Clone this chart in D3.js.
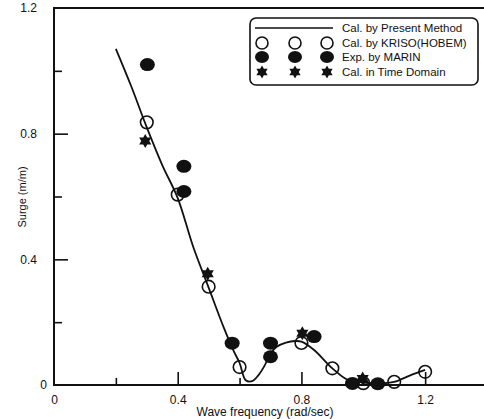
<!DOCTYPE html>
<html>
<head>
<meta charset="utf-8">
<script src="https://cdn.jsdelivr.net/npm/d3@7"></script>
<style>
  body { margin: 0; background: #fff; }
  text { font-family: "Liberation Sans", Arial, sans-serif; fill: #111; }
</style>
</head>
<body>
<div id="content"></div>
<script>
// Surge RAO vs wave frequency

// Cal. by Present Method (solid curve)
var presentFreq = [0.2, 0.25, 0.3, 0.35, 0.4, 0.45, 0.5, 0.55, 0.58, 0.6, 0.62, 0.64, 0.66, 0.68, 0.7, 0.72, 0.75, 0.78, 0.8, 0.84, 0.9, 0.95, 1.0, 1.05, 1.1, 1.15, 1.2];
var presentSurge = [1.07, 0.95, 0.82, 0.70, 0.595, 0.44, 0.31, 0.18, 0.11, 0.07, 0.015, 0.012, 0.03, 0.06, 0.10, 0.122, 0.135, 0.14, 0.138, 0.112, 0.053, 0.016, 0.008, 0.005, 0.01, 0.03, 0.048];

// Cal. by KRISO(HOBEM) (open circles)
var krisoFreq = [0.3, 0.4, 0.5, 0.6, 0.8, 0.9, 1.0, 1.1, 1.2];
var krisoSurge = [0.836, 0.606, 0.313, 0.057, 0.134, 0.053, 0.006, 0.01, 0.042];

// Exp. by MARIN (filled circles)
var marinFreq = [0.302, 0.42, 0.42, 0.576, 0.70, 0.70, 0.841, 0.965, 1.047];
var marinSurge = [1.02, 0.696, 0.616, 0.133, 0.133, 0.09, 0.154, 0.005, 0.004];

// Cal. in Time Domain (stars)
var timeFreq = [0.295, 0.497, 0.803, 0.998];
var timeSurge = [0.777, 0.354, 0.165, 0.021];

var xTicks = [0, 0.4, 0.8, 1.2];
var yTicks = [0, 0.4, 0.8, 1.2];
var legendLabels = ['Cal. by Present Method', 'Cal. by KRISO(HOBEM)', 'Exp. by MARIN', 'Cal. in Time Domain'];

var W = 484, H = 419;
var svg = d3.select('#content').append('svg')
    .attr('width', W)
    .attr('height', H);

var x = d3.scaleLinear().domain([0, 1.4]).range([54, 487]);
var y = d3.scaleLinear().domain([0, 1.2]).range([385, 8]);

// frame
svg.append('rect')
    .attr('x', x(0)).attr('y', y(1.2))
    .attr('width', x(1.4) - x(0)).attr('height', y(0) - y(1.2))
    .attr('fill', 'none').attr('stroke', '#111').attr('stroke-width', 2);

// x axis (ticks pointing inward)
var xAxis = d3.axisBottom(x).tickValues(xTicks).tickSize(-13).tickPadding(10)
    .tickFormat(function(d) { return d === 0 ? '0' : d3.format('.1f')(d); });
var gx = svg.append('g').attr('transform', 'translate(0,' + y(0) + ')').call(xAxis);
gx.select('.domain').remove();
gx.selectAll('line').attr('stroke', '#111').attr('stroke-width', 1.6);
gx.selectAll('text').style('font-size', '12px');
gx.selectAll('.tick').filter(function(d) { return d === 0; }).select('line').remove();

var xMinor = d3.axisBottom(x).tickValues([0.2, 0.6, 1.0]).tickSize(-7).tickFormat('');
var gxm = svg.append('g').attr('transform', 'translate(0,' + y(0) + ')').call(xMinor);
gxm.select('.domain').remove();
gxm.selectAll('line').attr('stroke', '#111').attr('stroke-width', 1.6);

// y axis
var yAxis = d3.axisLeft(y).tickValues(yTicks).tickSize(-14).tickPadding(17)
    .tickFormat(function(d) { return d === 0 ? '0' : d3.format('.1f')(d); });
var gy = svg.append('g').attr('transform', 'translate(' + x(0) + ',0)').call(yAxis);
gy.select('.domain').remove();
gy.selectAll('line').attr('stroke', '#111').attr('stroke-width', 1.6);
gy.selectAll('text').style('font-size', '12px');
gy.selectAll('.tick').filter(function(d) { return d === 0 || d === 1.2; }).select('line').remove();
gy.selectAll('.tick').filter(function(d) { return d === 0; }).select('text').attr('x', -7);

var yMinor = d3.axisLeft(y).tickValues([0.2, 0.6, 1.0]).tickSize(-8).tickFormat('');
var gym = svg.append('g').attr('transform', 'translate(' + x(0) + ',0)').call(yMinor);
gym.select('.domain').remove();
gym.selectAll('line').attr('stroke', '#111').attr('stroke-width', 1.6);

// axis titles
svg.append('text')
    .attr('x', 265).attr('y', 416)
    .attr('text-anchor', 'middle')
    .style('font-size', '12px')
    .text('Wave frequency (rad/sec)');
svg.append('text')
    .attr('transform', 'translate(26,197) rotate(-90)')
    .attr('text-anchor', 'middle')
    .style('font-size', '11px')
    .text('Surge (m/m)');

// present method curve
var line = d3.line()
    .x(function(d) { return x(d[0]); })
    .y(function(d) { return y(d[1]); })
    .curve(d3.curveCatmullRom);
svg.append('path')
    .datum(d3.zip(presentFreq, presentSurge))
    .attr('d', line)
    .attr('fill', 'none')
    .attr('stroke', '#111')
    .attr('stroke-width', 1.8);

function hexStar(size) {
    // six-pointed star: two overlapping triangles
    var r = size, tri1 = [], tri2 = [];
    for (var k = 0; k < 3; k++) {
        var a1 = -Math.PI / 2 + k * 2 * Math.PI / 3;
        var a2 = Math.PI / 2 + k * 2 * Math.PI / 3;
        tri1.push([r * Math.cos(a1), r * Math.sin(a1)]);
        tri2.push([r * Math.cos(a2), r * Math.sin(a2)]);
    }
    return 'M' + tri1.join('L') + 'Z M' + tri2.join('L') + 'Z';
}

// MARIN filled
svg.append('g').selectAll('ellipse')
    .data(d3.zip(marinFreq, marinSurge))
    .enter().append('ellipse')
    .attr('cx', function(d) { return x(d[0]); })
    .attr('cy', function(d) { return y(d[1]); })
    .attr('rx', 7.5).attr('ry', 6.5)
    .attr('fill', '#111');

// KRISO open
svg.append('g').selectAll('circle')
    .data(d3.zip(krisoFreq, krisoSurge))
    .enter().append('circle')
    .attr('cx', function(d) { return x(d[0]); })
    .attr('cy', function(d) { return y(d[1]); })
    .attr('r', 6.3)
    .attr('fill', 'none')
    .attr('stroke', '#111')
    .attr('stroke-width', 1.6);

// Time domain stars
svg.append('g').selectAll('path')
    .data(d3.zip(timeFreq, timeSurge))
    .enter().append('path')
    .attr('transform', function(d) { return 'translate(' + x(d[0]) + ',' + y(d[1]) + ')'; })
    .attr('d', hexStar(7))
    .attr('fill', '#111');

// legend
var lg = svg.append('g');
lg.append('rect')
    .attr('x', 250).attr('y', 18).attr('width', 228).attr('height', 67)
    .attr('rx', 6)
    .attr('fill', '#fff').attr('stroke', '#111').attr('stroke-width', 1.6);
var rowY = [28, 43, 57, 72];
var symX = [262, 295, 327];
lg.append('line')
    .attr('x1', 255).attr('x2', 333).attr('y1', rowY[0]).attr('y2', rowY[0])
    .attr('stroke', '#111').attr('stroke-width', 1.6);
symX.forEach(function(sx) {
    lg.append('circle').attr('cx', sx).attr('cy', rowY[1]).attr('r', 6)
        .attr('fill', 'none').attr('stroke', '#111').attr('stroke-width', 1.6);
    lg.append('ellipse').attr('cx', sx).attr('cy', rowY[2]).attr('rx', 7).attr('ry', 6)
        .attr('fill', '#111');
    lg.append('path').attr('transform', 'translate(' + sx + ',' + rowY[3] + ')')
        .attr('d', hexStar(6.5)).attr('fill', '#111');
});
lg.selectAll('text.lab')
    .data(legendLabels)
    .enter().append('text')
    .attr('class', 'lab')
    .attr('x', 342)
    .attr('y', function(d, i) { return rowY[i] + 4; })
    .style('font-size', '11.5px')
    .text(function(d) { return d; });
</script>
</body>
</html>
